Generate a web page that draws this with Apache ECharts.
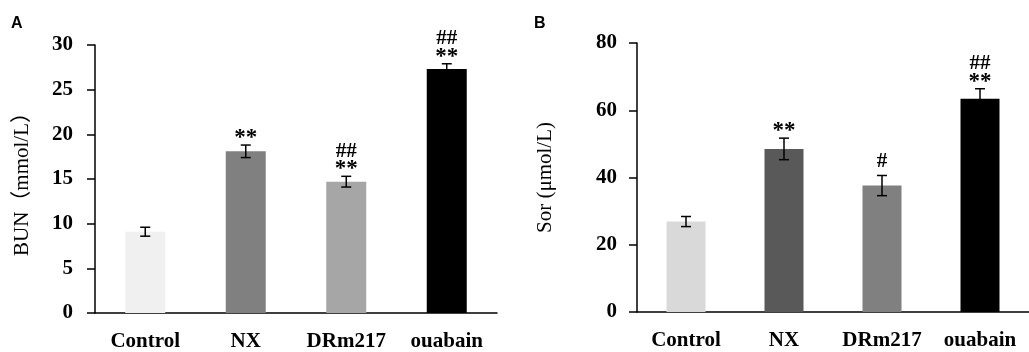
<!DOCTYPE html>
<html><head><meta charset="utf-8">
<script src="https://cdn.jsdelivr.net/npm/echarts@6/dist/echarts.min.js"></script>
<style>html,body{margin:0;padding:0;background:#fff}#c{width:1029px;height:352px}</style>
</head><body><div id="c"></div>
<script>
const categories = ['Control', 'NX', 'DRm217', 'ouabain'];
const bunMean = [9.1, 18.1, 14.7, 27.3];
const bunErr = [0.5, 0.7, 0.6, 0.6];
const bunMarks = [[], ['**'], ['##', '**'], ['##', '**']];
const bunColors = ['#f0f0f0', '#808080', '#a6a6a6', '#000000'];
const sorMean = [26.9, 48.5, 37.6, 63.4];
const sorErr = [1.5, 3.2, 3.0, 3.0];
const sorMarks = [[], ['**'], ['#'], ['##', '**']];
const sorColors = ['#d9d9d9', '#595959', '#808080', '#000000'];

const SERIF = "'Liberation Serif','Times New Roman','Noto Sans CJK SC',serif";

function errRender(marks) {
  return function (params, api) {
    const i = api.value(0), m = api.value(1), e = api.value(2);
    const top = api.coord([i, m + e]);
    const bot = api.coord([i, m - e]);
    const x = top[0];
    const cw = 5;
    const ls = { stroke: '#000', lineWidth: 1.5 };
    const children = [
      { type: 'line', shape: { x1: x, y1: top[1], x2: x, y2: bot[1] }, style: ls },
      { type: 'line', shape: { x1: x - cw, y1: top[1], x2: x + cw, y2: top[1] }, style: ls },
      { type: 'line', shape: { x1: x - cw, y1: bot[1], x2: x + cw, y2: bot[1] }, style: ls }
    ];
    const mk = marks[params.dataIndex];
    let y = top[1];
    for (let k = mk.length - 1; k >= 0; k--) {
      const s = mk[k];
      const star = s[0] === '*';
      y -= (k === mk.length - 1) ? (star ? 7 : 14) : 18;
      children.push({ type: 'text', style: { text: s, x: x, y: y, align: 'center', verticalAlign: 'middle', font: 'bold ' + (star ? 23 : 21) + 'px ' + SERIF, fill: '#000' } });
    }
    return { type: 'group', children: children };
  };
}

function xAxis(gi) {
  return {
    gridIndex: gi, type: 'category', data: categories,
    axisLine: { lineStyle: { color: '#000', width: 1.5 } },
    axisTick: { length: 9, lineStyle: { color: '#000', width: 1.5 } },
    axisLabel: { interval: 0, hideOverlap: false, margin: 18, color: '#000', fontFamily: SERIF, fontWeight: 'bold', fontSize: 21 }
  };
}
function yAxis(gi, max, interval, name, gap, lm) {
  return {
    gridIndex: gi, type: 'value', min: 0, max: max, interval: interval,
    name: name, nameLocation: 'middle', nameGap: gap,
    nameTextStyle: { color: '#000', fontFamily: SERIF, fontSize: 21 },
    axisLine: { show: true, lineStyle: { color: '#000', width: 1.5 } },
    axisTick: { show: true, length: 8, lineStyle: { color: '#000', width: 1.5 } },
    splitLine: { show: false },
    axisLabel: { margin: lm, color: '#000', fontFamily: SERIF, fontWeight: 'bold', fontSize: 21 }
  };
}

const chart = echarts.init(document.getElementById('c'));
chart.setOption({
  animation: false,
  title: [
    { text: 'A', left: 11, top: 16, padding: 0, textStyle: { fontSize: 16, fontWeight: 'bold', fontFamily: 'Liberation Sans', color: '#000' } },
    { text: 'B', left: 534, top: 16, padding: 0, textStyle: { fontSize: 16, fontWeight: 'bold', fontFamily: 'Liberation Sans', color: '#000' } }
  ],
  grid: [
    { left: 95, top: 45, width: 402, height: 268 },
    { left: 637, top: 43, width: 398, height: 269 }
  ],
  xAxis: [xAxis(0), xAxis(1)],
  yAxis: [
    yAxis(0, 30, 5, 'BUN（mmol/L）', 62, 22),
    yAxis(1, 80, 20, 'Sor (μmol/L)', 81, 20)
  ],
  series: [
    { type: 'bar', xAxisIndex: 0, yAxisIndex: 0, barWidth: 40, data: bunMean,
      itemStyle: { color: p => bunColors[p.dataIndex] } },
    { type: 'custom', xAxisIndex: 0, yAxisIndex: 0, renderItem: errRender(bunMarks),
      data: categories.map((c, i) => [i, bunMean[i], bunErr[i]]), z: 5 },
    { type: 'bar', xAxisIndex: 1, yAxisIndex: 1, barWidth: 39, data: sorMean,
      itemStyle: { color: p => sorColors[p.dataIndex] } },
    { type: 'custom', xAxisIndex: 1, yAxisIndex: 1, renderItem: errRender(sorMarks),
      data: categories.map((c, i) => [i, sorMean[i], sorErr[i]]), z: 5 }
  ]
});
</script>
</body></html>
